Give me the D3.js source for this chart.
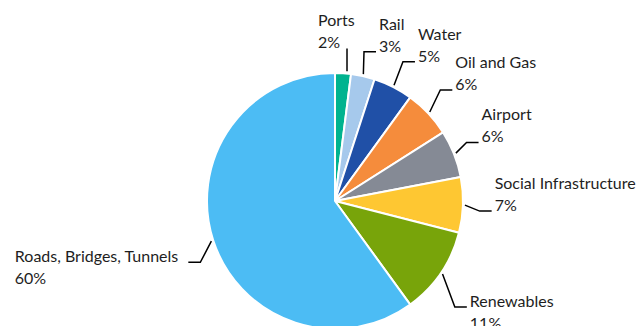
<!DOCTYPE html>
<html><head><meta charset="utf-8">
<script src="https://cdn.jsdelivr.net/npm/d3@7/dist/d3.min.js"></script>
<style>html,body{margin:0;padding:0;background:#fff;overflow:hidden}</style>
</head><body>
<svg id="chart" width="640" height="326"></svg>
<script>
const categories = ["Ports","Rail","Water","Oil and Gas","Airport","Social Infrastructure","Renewables","Roads, Bridges, Tunnels"];
const shares = [2,3,5,6,6,7,11,60];
const colors = ["#00b38f","#a6c9ec","#2050a7","#f58c3c","#858a95","#fec732","#78a40a","#4cbcf4"];

// leader-line layout (elbow angle in degrees from 12 o'clock, elbow radius)
const elbowAngle = [4.5, 11, 26, 43.5, 66, 94, 131.5, 245.5];
const elbowRadius = [153, 152, 155, 153, 144, 145, 160, 148];

const cx = 335, cy = 201, R = 128;
const svg = d3.select("#chart");
const g = svg.append("g").attr("transform", `translate(${cx},${cy})`);

const pie = d3.pie().sort(null).value(d => d.v);
const data = pie(categories.map((c,i)=>({c, v: shares[i], col: colors[i]})));
const arc = d3.arc().innerRadius(0).outerRadius(R);

g.selectAll("path.slice").data(data).enter().append("path")
  .attr("class","slice")
  .attr("d", arc)
  .attr("fill", d => d.data.col)
  .attr("stroke", "#fff").attr("stroke-width", 2).attr("stroke-linejoin","round");

const font = "Lato, 'Open Sans', sans-serif";
const fs = 16, lh = 22;
const polar = (a, r) => [r*Math.sin(a), -r*Math.cos(a)];

data.forEach((d,i) => {
  const mid = (d.startAngle + d.endAngle)/2;
  const p0 = polar(mid, R + 2);
  const p1 = polar(elbowAngle[i]*Math.PI/180, elbowRadius[i]);
  const right = Math.sin(mid) >= 0;
  const lg = g.append("g");
  let pts, tx;
  if (i === 0) {
    pts = [[p1[0], p0[1]], p1];
    tx = p1[0] - 29;
  } else {
    const p2 = [p1[0] + (right ? 12 : -12), p1[1]];
    pts = [p0, p1, p2];
    tx = p2[0] + (right ? 3 : -10);
  }
  lg.append("polyline")
    .attr("points", pts.map(p=>p.join(",")).join(" "))
    .attr("fill","none").attr("stroke","#000").attr("stroke-width",1.5);
  const upper = mid < 1.75;
  const base = upper ? p1[1] - lh : p1[1];
  const t = lg.append("text")
    .attr("font-family", font).attr("font-size", fs).attr("fill","#1e1e1e");
  [d.data.c, d.data.v + "%"].forEach((s,k) => {
    t.append("tspan").attr("x", 0).attr("y", base + k*lh).text(s);
  });
  if (!right && i !== 0) {
    const bw = t.node().getBBox().width;
    t.attr("transform", `translate(${tx - bw},0)`);
  } else {
    t.attr("transform", `translate(${tx},0)`);
  }
});
</script>
</body></html>
